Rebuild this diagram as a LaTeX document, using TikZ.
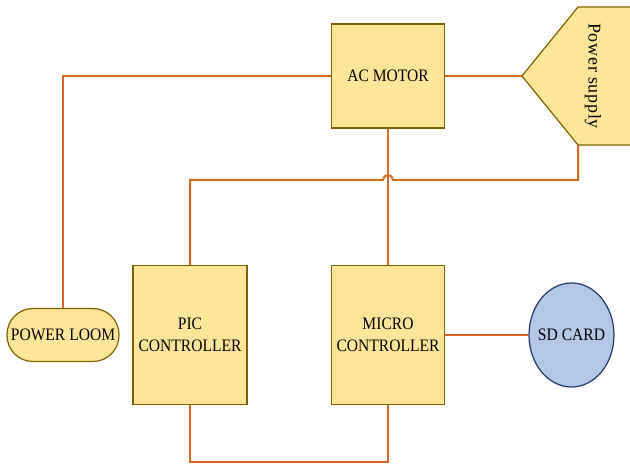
\documentclass[tikz,border=0pt]{standalone}
\usepackage{fontspec}
\setmainfont{Liberation Serif}
\newfontfamily\boxfont{Liberation Serif}[FakeStretch=0.89]
\usetikzlibrary{shapes.geometric}
\definecolor{boxfill}{RGB}{255,229,153}
\definecolor{boxline}{RGB}{127,96,0}
\definecolor{wirecol}{RGB}{214,104,36}
\definecolor{cardfill}{RGB}{180,199,231}
\definecolor{cardline}{RGB}{32,56,100}
\tikzset{
  unit/.style={draw=boxline, fill=boxfill, line width=1.2pt, inner sep=0pt, align=center,
    font=\boxfont\fontsize{17.5}{22}\selectfont},
  wire/.style={draw=wirecol, line width=2pt}
}
\begin{document}
\begin{tikzpicture}[x=1pt, y=-1pt]
\useasboundingbox (0,0) rectangle (630,465);
%
\draw[wire] (578,145) -- (578,180) -- (393,180) arc (0:-180:5) -- (190,180) -- (190,266);
\draw[wire] (444,76) -- (522,76);
%
\node[unit, minimum width=113pt, minimum height=104pt] (acmotor) at (388,76) {AC MOTOR};
\node[unit, minimum width=114pt, minimum height=139pt] (pic) at (190,335) {PIC\\CONTROLLER};
\node[unit, minimum width=113pt, minimum height=139pt] (micro) at (388,335) {MICRO\\CONTROLLER};
\node[unit, rounded corners=26pt, minimum width=112pt, minimum height=53pt] (loom) at (63,335) {POWER LOOM};
\node[ellipse, draw=cardline, fill=cardfill, line width=1.2pt, inner sep=0pt, minimum width=85pt,
  minimum height=104pt, font=\boxfont\fontsize{17.5}{22}\selectfont] (sdcard) at (571.5,335) {\makebox[0pt]{SD CARD}};
%
% power supply, cut off at the right edge
\draw[draw=boxline, fill=boxfill, line width=1.2pt] (522,76) coordinate (ps) -- (578,7) -- (645,7)
  -- (645,145) -- (578,145) coordinate (psb) -- cycle;
\node[rotate=-90, font=\fontsize{18}{20}\selectfont\addfontfeature{LetterSpace=4}] (pslabel) at (593,76) {Power supply};
%
\draw[wire] (acmotor.west) -- (acmotor.west -| loom.north) -- (loom.north);
\draw[wire] (acmotor.south) -- (micro.north);
\draw[wire] (pic.south) -- ++(0,57) -| (micro.south);
\draw[wire] (micro.east) -- (sdcard.west);
\end{tikzpicture}
\end{document}
